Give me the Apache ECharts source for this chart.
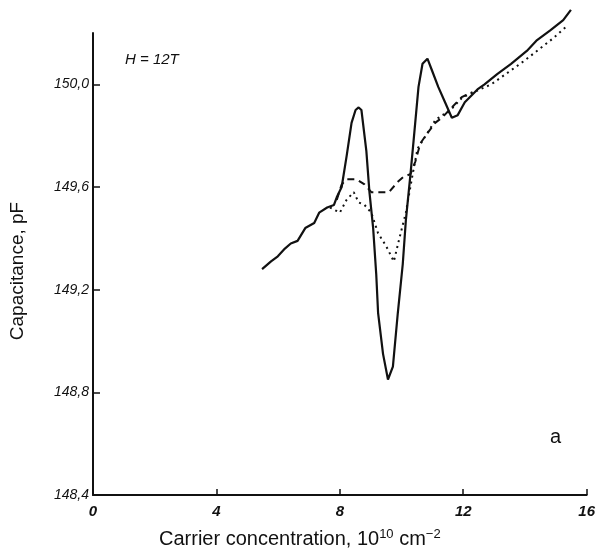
<!DOCTYPE html>
<html>
<head>
<meta charset="utf-8">
<script src="https://cdn.jsdelivr.net/npm/echarts@6/dist/echarts.min.js"></script>
<style>
  html, body { margin: 0; padding: 0; background: #fff; }
  #chart { width: 598px; height: 557px; }
</style>
</head>
<body>
<div id="chart"></div>
<script>
// carrier concentration (10^10 cm^-2) and capacitance (pF)
const solidX = [5.48, 5.77, 5.99, 6.22, 6.41, 6.63, 6.88, 7.17, 7.33, 7.59, 7.81, 7.90, 8.06, 8.22, 8.38, 8.51, 8.61, 8.70, 8.86, 8.96,
  9.08, 9.18, 9.24, 9.40, 9.56, 9.72, 9.88, 10.04, 10.14, 10.29, 10.39, 10.55, 10.68, 10.84, 11.00, 11.19, 11.41, 11.63, 11.82, 12.05,
  12.46, 12.69, 13.10, 13.55, 14.06, 14.37, 14.82, 15.24, 15.49];
const solidY = [149.28, 149.31, 149.33, 149.36, 149.38, 149.39, 149.44, 149.46, 149.50, 149.52, 149.53, 149.56, 149.60, 149.72, 149.85, 149.90, 149.91, 149.90, 149.74, 149.58,
  149.44, 149.26, 149.11, 148.95, 148.85, 148.90, 149.11, 149.30, 149.47, 149.65, 149.78, 149.99, 150.08, 150.10, 150.05, 149.99, 149.93, 149.87, 149.88, 149.93,
  149.98, 150.00, 150.04, 150.08, 150.13, 150.17, 150.21, 150.25, 150.29];

const dashX = [7.90, 8.06, 8.22, 8.54, 8.80, 9.02, 9.40, 9.59, 9.88, 10.07, 10.29, 10.45, 10.61, 10.84, 11.09, 11.31, 11.63, 11.95, 12.30];
const dashY = [149.55, 149.61, 149.63, 149.63, 149.61, 149.58, 149.58, 149.58, 149.62, 149.64, 149.65, 149.70, 149.77, 149.81, 149.85, 149.87, 149.91, 149.95, 149.97];

const dotX = [7.68, 7.84, 8.00, 8.22, 8.45, 8.61, 8.80, 9.02, 9.24, 9.50, 9.75, 9.91, 10.14, 10.36, 10.52, 10.68, 10.84, 11.09, 11.31, 11.51,
  11.98, 12.91, 13.96, 14.92, 15.39];
const dotY = [149.52, 149.51, 149.50, 149.55, 149.58, 149.54, 149.53, 149.50, 149.42, 149.37, 149.31, 149.39, 149.50, 149.65, 149.75, 149.78, 149.81, 149.86, 149.88, 149.89,
  149.95, 150.00, 150.09, 150.18, 150.23];

const yTicks = [148.4, 148.8, 149.2, 149.6, 150.0];
const xTicks = [0, 4, 8, 12, 16];

function pairs(xs, ys) {
  return xs.map((x, i) => [x, ys[i]]);
}

const chart = echarts.init(document.getElementById('chart'));
const ink = '#111';

chart.setOption({
  backgroundColor: '#fff',
  animation: false,
  grid: { left: 92, right: 4, top: 33, bottom: 62 },
  xAxis: {
    type: 'value',
    min: xTicks[0],
    max: xTicks[xTicks.length - 1],
    interval: 4,
    splitLine: { show: false },
    axisLine: { lineStyle: { color: ink, width: 2 } },
    axisTick: { inside: true, length: 6, lineStyle: { color: ink, width: 1.5 } },
    axisLabel: {
      color: ink, fontSize: 15, fontStyle: 'italic', fontWeight: 'bold',
      fontFamily: 'Liberation Sans', margin: 9
    },
    name: '{n|Carrier concentration, 10}{s|10}{n| cm}{s|\u22122}',
    nameLocation: 'middle',
    nameGap: 33,
    nameTextStyle: {
      padding: [0, 80, 0, 0],
      rich: {
        n: { fontSize: 20, fontFamily: 'Liberation Sans', color: ink },
        s: { fontSize: 13, fontFamily: 'Liberation Sans', color: ink, padding: [0, 0, 10, 0] }
      }
    }
  },
  yAxis: {
    type: 'value',
    min: 148.4,
    max: 150.2,
    splitLine: { show: false },
    axisLine: { lineStyle: { color: ink, width: 2 } },
    axisTick: { inside: true, length: 7, customValues: yTicks, lineStyle: { color: ink, width: 1.5 } },
    axisLabel: {
      customValues: yTicks,
      color: ink, fontSize: 14, fontStyle: 'italic',
      fontFamily: 'Liberation Sans', margin: 4,
      formatter: v => v.toFixed(1).replace('.', ',')
    },
    name: 'Capacitance, pF',
    nameLocation: 'middle',
    nameRotate: 90,
    nameGap: 66,
    nameTextStyle: { fontSize: 19, fontFamily: 'Liberation Sans', color: ink, padding: [0, 14, 0, 0] }
  },
  graphic: [
    { type: 'text', left: 125, top: 52, style: { text: 'H = 12T', fontSize: 15, fontStyle: 'italic', fontFamily: 'Liberation Sans', fill: ink } },
    { type: 'text', left: 550, top: 427, style: { text: 'a', fontSize: 20, fontFamily: 'Liberation Sans', fill: ink } }
  ],
  series: [
    {
      type: 'line', data: pairs(solidX, solidY), showSymbol: false, clip: false,
      lineStyle: { color: ink, width: 2.2 }
    },
    {
      type: 'line', data: pairs(dashX, dashY), showSymbol: false, clip: false,
      lineStyle: { color: ink, width: 2, type: [7, 5] }
    },
    {
      type: 'line', data: pairs(dotX, dotY), showSymbol: false, clip: false,
      lineStyle: { color: ink, width: 2, type: [2, 4] }
    }
  ]
});
</script>
</body>
</html>
